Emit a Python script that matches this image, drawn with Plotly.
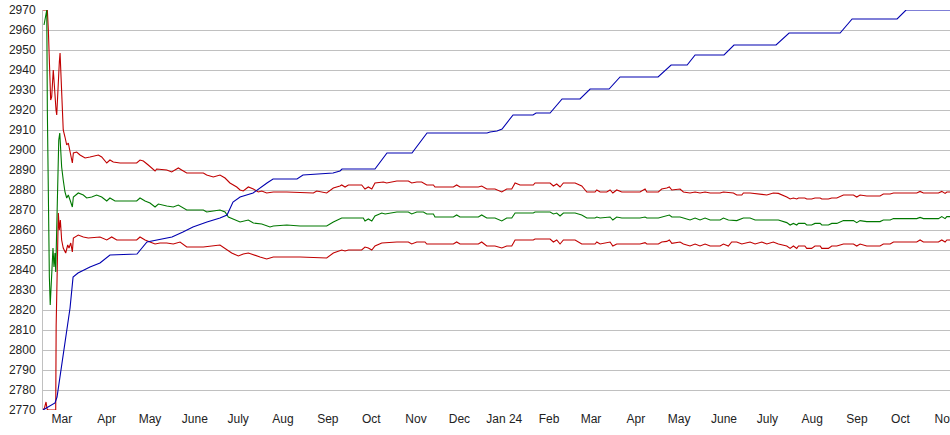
import pandas as pd
import plotly.graph_objects as go

START = "2023-02-16"

# Top series (blue): day offset from START, value
blue_days = [0, 8.3, 9.7, 11.8, 16.4, 18.7, 20.8, 24.2, 32.5, 39.4, 46.3, 65, 71.9, 78.9, 89.2,
             96.8, 103.7, 113.4, 122.4, 127.3, 131.4, 136.3, 145.3, 154.9, 159.1, 175.7, 179.8,
             200.6, 205.4, 206.8, 229.6, 237.9, 255.2, 265.6, 307.1, 309.2, 314, 317.5, 325.1,
             338.9, 341, 350.7, 359, 371.4, 378.4, 391.5, 399.1, 425.4, 434.4, 445.5, 451, 471,
             477.9, 507, 516, 551.3, 559.6, 590.7, 596.9, 627.4]
blue_vals = [2770, 2773.5, 2776.5, 2786.5, 2808.5, 2821, 2836.5, 2838.5, 2841.5, 2843.5, 2847.5,
             2848, 2854, 2855, 2856.5, 2859, 2861.5, 2864, 2866, 2867.5, 2874, 2876.5, 2878.5,
             2883.5, 2885.5, 2885.5, 2887.5, 2888.5, 2889.5, 2890.5, 2890.5, 2898.5, 2898.5,
             2908.5, 2908.5, 2909, 2909.5, 2910.5, 2917.5, 2917.5, 2918.5, 2918.5, 2925.5, 2925.5,
             2930.5, 2930.5, 2936.5, 2936.5, 2942.5, 2942.5, 2947.5, 2947.5, 2952.5, 2952.5,
             2958.5, 2958.5, 2965.5, 2965.5, 2970, 2970]

# Upper band (red)
upper_days = [0, 3.0, 3.7, 4.4, 4.8, 5.3, 6.0, 6.7, 7.1, 7.6, 8.3, 9.0, 9.5, 9.9, 10.6, 11.3, 11.8,
              12.2, 12.9, 13.6, 14.0, 15.2, 16.4, 17.5, 18.2, 18.7, 19.4, 20.3, 21.0, 23.3, 25.6,
              29.1, 32.5, 36.0, 38.3, 40.6, 44.1, 46.3, 48.6, 53.3, 64.8, 67.1, 69.4, 72.8, 75.2,
              77.5, 78.6, 85.6, 89.0, 93.6, 95.9, 99.4, 110.9, 113.2, 117.8, 122.4, 125.9, 129.3,
              134.0, 136.3, 138.5, 142.0, 145.5, 148.9, 151.3, 154.7, 159.3, 168.6, 187.0, 189.3,
              196.2, 200.8, 205.4, 206.6, 208.9, 211.2, 220.4, 222.7, 225, 227.4, 229.6, 235.4,
              237.7, 244.7, 252.7, 255, 258.5, 261.9, 265.4, 270, 271.1, 283.8, 286.1, 288.4,
              301.1, 303.4, 306.9, 312.6, 317.3, 320.7, 324.2, 326.5, 329.9, 339.1, 340.3, 350.7,
              353, 355.3, 357.6, 359.9, 368, 372.6, 376.1, 381.8, 383, 385.3, 389.9, 392.2, 394.1,
              396.8, 400.3, 412.9, 416.4, 417.6, 425.6, 427.9, 431.4, 433.2, 434.9, 440.6, 442.9,
              447.5, 451, 454.4, 457.9, 461.4, 468.3, 470.6, 477.5, 479.8, 483.3, 484.4, 489,
              500.6, 505.1, 508.6, 514.4, 516.7, 519, 521.3, 522.5, 526.9, 528.2, 531.6, 533.9,
              537.5, 538.6, 543.2, 545.5, 549, 553.6, 560.5, 562.8, 565.1, 569.7, 578.9, 581.2,
              585.9, 588.2, 604.3, 606.6, 608.9, 619.3, 621.6, 623.9, 625.1, 627.4]
upper_vals = [2970, 2970, 2960, 2946.5, 2931.5, 2925, 2926.5, 2934, 2940, 2935, 2925, 2920, 2917.5,
              2925, 2935, 2944, 2948.5, 2940, 2928.5, 2916, 2910, 2906.5, 2902.5, 2903.5, 2901,
              2900, 2897, 2893.5, 2898.5, 2899, 2897.5, 2896, 2896.5, 2897, 2897.5, 2896.5, 2893.5,
              2895, 2894, 2893.5, 2893.5, 2895, 2894.5, 2892.5, 2891, 2889.5, 2890.5, 2890, 2889,
              2891, 2890, 2888.5, 2888.5, 2887.5, 2886.5, 2887.5, 2886, 2883.5, 2881.5, 2880,
              2879.5, 2881.5, 2880.5, 2879, 2879.5, 2878.5, 2879, 2879, 2878.5, 2879.5, 2878.5,
              2881, 2882, 2882.5, 2881.5, 2882.5, 2882.5, 2880.5, 2881.5, 2880.5, 2883.5, 2884,
              2883.5, 2884.5, 2884.5, 2883.5, 2884, 2884, 2882.5, 2882.5, 2881.5, 2881.5, 2882.5,
              2881.5, 2881.5, 2882, 2880.5, 2880.5, 2879, 2880.5, 2880.5, 2883.5, 2882.5, 2882.5,
              2883.5, 2883.5, 2882, 2883, 2881.5, 2883.5, 2883.5, 2882, 2879, 2879, 2880, 2879,
              2879, 2880, 2878.5, 2880, 2879, 2879, 2880.5, 2879, 2879, 2880.5, 2881, 2881.5,
              2880, 2880.5, 2879, 2878.5, 2879, 2878.5, 2879, 2878.5, 2878.5, 2879, 2878.5,
              2877.5, 2877.5, 2878.5, 2878.5, 2877.5, 2878.5, 2878.3, 2876.5, 2875.5, 2876,
              2875.5, 2876, 2876, 2875.5, 2875.5, 2876, 2876, 2875.5, 2875.5, 2876, 2876, 2877.5,
              2877.5, 2876.5, 2877.5, 2877, 2877, 2878, 2878, 2878.5, 2878.5, 2879.3, 2878.5,
              2878.5, 2879.3, 2878.3, 2879, 2879]

# Middle series (green)
mid_days = [0.7, 1.9, 2.6, 3.0, 3.7, 4.4, 5.0, 5.5, 6.2, 6.9, 7.6, 8.3, 8.8, 9.5, 10.2, 10.9, 11.6,
            12.2, 12.9, 14.0, 15.2, 16.4, 17.5, 18.7, 20.3, 21.0, 24.4, 27.9, 30.2, 33.7, 37.1,
            40.6, 44.1, 46.3, 49.8, 64.8, 67.1, 70.6, 74.0, 77.5, 79.8, 85.6, 90.1, 93.6, 97.0,
            99.4, 110.9, 113.2, 122.4, 125.9, 128.2, 131.6, 136.3, 142.0, 145.5, 151.3, 157.0,
            159.3, 168.6, 177.8, 196.2, 200.8, 205.4, 206.6, 221.5, 222.7, 225, 227.4, 229.6,
            234.3, 236.6, 244.7, 252.7, 255, 258.5, 263.1, 265.4, 270, 271.1, 283.8, 286.1,
            288.4, 301.1, 303.4, 306.9, 312.6, 317.3, 320.7, 324.2, 326.5, 339.1, 340.3, 350.7,
            353, 355.3, 357.6, 359.9, 368, 372.6, 376.1, 381.8, 383, 385.3, 392.2, 394.1, 396.8,
            400.3, 412.9, 416.4, 417.6, 425.6, 427.9, 431.4, 433.2, 434.9, 440.6, 442.9, 447.5,
            451, 454.4, 457.9, 461.4, 468.3, 470.6, 474, 479.8, 484.4, 489, 492.5, 500.6, 508.6,
            514.4, 516.7, 519, 521.3, 522.5, 526.9, 528.2, 531.6, 533.9, 537.5, 538.6, 543.2,
            545.5, 549, 553.6, 560.5, 562.8, 565.1, 569.7, 578.9, 581.2, 585.9, 588.2, 604.3,
            606.6, 608.9, 619.3, 621.6, 623.9, 625.1, 627.4]
mid_vals = [2962.5, 2968.5, 2970, 2920, 2858.5, 2836.5, 2822.5, 2828.5, 2838.5, 2851, 2841.5,
            2848.5, 2839, 2858.5, 2891.5, 2905, 2908.5, 2900, 2891.5, 2885, 2879, 2876, 2877.5,
            2875, 2871.5, 2876.5, 2878.5, 2877.5, 2876, 2876.5, 2877.5, 2876.5, 2874.5, 2876,
            2874.5, 2874.5, 2876, 2874.5, 2873.5, 2871.5, 2873, 2872, 2871.5, 2872.5, 2871, 2870,
            2870, 2869, 2870, 2869, 2866.5, 2865.5, 2864, 2865, 2863.5, 2863, 2861.5, 2862,
            2862.5, 2862, 2862, 2864, 2865.5, 2866, 2866, 2864.5, 2865.5, 2864.5, 2867, 2868.5,
            2868, 2869, 2869, 2868, 2869, 2869, 2868, 2868, 2866.5, 2866.5, 2867.5, 2866.5,
            2866.5, 2867.5, 2866, 2866, 2864.5, 2866, 2866, 2868.5, 2868.5, 2869, 2869, 2868,
            2868.5, 2867, 2868.5, 2868.5, 2867.5, 2866, 2866, 2866.5, 2866, 2866.5, 2865, 2866.5,
            2866, 2866, 2866.5, 2866, 2866, 2866.5, 2867, 2867.5, 2866.5, 2866.5, 2866, 2865,
            2866, 2865, 2866, 2865, 2865, 2866, 2865, 2864.7, 2866, 2866, 2865, 2865, 2865,
            2863.7, 2862.5, 2863.3, 2862.5, 2863.3, 2863.3, 2862.5, 2862.5, 2863.3, 2863.3,
            2862.5, 2862.5, 2863.3, 2863.3, 2864.7, 2864.7, 2863.7, 2864.7, 2864.2, 2864.2, 2865,
            2865, 2865.7, 2865.7, 2866.3, 2865.7, 2865.7, 2866.7, 2865.7, 2866.7, 2866.7]

# Lower band (red)
lower_days = [0, 1.0, 2.1, 2.8, 3.5, 8.8, 9.1, 9.9, 10.6, 11.3, 12.0, 12.9, 14.0, 15.7, 17.1, 18.0,
              19.2, 20.3, 21.0, 24.4, 27.9, 31.3, 36.0, 39.4, 44.1, 47.5, 51.0, 64.8, 67.1, 70.6,
              74.0, 77.5, 80.9, 85.6, 90.1, 94.8, 99.4, 110.9, 122.4, 127.1, 130.5, 135.1, 138.5,
              142.0, 145.5, 150.1, 154.7, 159.3, 177.8, 189.3, 196.2, 200.8, 205.4, 206.6, 208.9,
              211.2, 220.4, 222.7, 225, 227.4, 229.6, 234.3, 244.7, 252.7, 255, 258.5, 264.2,
              265.4, 283.8, 286.1, 288.4, 301.1, 303.4, 306.9, 312.6, 317.3, 320.7, 324.2, 326.5,
              339.1, 340.3, 350.7, 353, 355.3, 357.6, 359.9, 368, 372.6, 381.8, 383, 385.3, 392.2,
              394.1, 396.8, 412.9, 416.4, 417.6, 425.6, 427.9, 431.4, 433.2, 434.9, 440.6, 442.9,
              447.5, 451, 454.4, 457.9, 461.4, 468.3, 470.6, 474, 476.3, 479.8, 483.3, 489, 492.5,
              497.1, 500.6, 505.1, 508.6, 514.4, 516.7, 519, 521.3, 522.5, 526.9, 528.2, 531.6,
              533.9, 537.5, 538.6, 543.2, 545.5, 549, 553.6, 560.5, 562.8, 565.1, 569.7, 578.9,
              581.2, 585.9, 588.2, 604.3, 606.6, 608.9, 619.3, 621.6, 623.9, 625.1, 627.4]
lower_vals = [2770, 2771, 2774, 2770.5, 2770, 2770, 2812.5, 2845, 2868.5, 2860, 2865, 2855, 2851,
              2848.5, 2852.5, 2851, 2853.5, 2849, 2856, 2857.5, 2856.5, 2856, 2856.5, 2856.5, 2855,
              2856.5, 2855, 2855, 2856.5, 2855, 2854, 2853, 2853.5, 2853.5, 2853, 2854, 2851.5,
              2851.5, 2852.5, 2850, 2848.5, 2847, 2848, 2848.5, 2847.5, 2846.5, 2845.5, 2846.5,
              2846.5, 2846, 2846, 2848.5, 2849.5, 2850, 2849.5, 2850, 2850, 2851.5, 2851, 2850,
              2852, 2853.5, 2854, 2854, 2853, 2854, 2854, 2853, 2853, 2854, 2853, 2853, 2854, 2852,
              2852, 2851, 2852, 2852, 2855, 2855, 2855.5, 2855.5, 2854, 2855, 2853, 2855, 2855,
              2853, 2853, 2854, 2853, 2854, 2852, 2853, 2853, 2853.7, 2853, 2853, 2854, 2854.3,
              2855, 2853.3, 2854, 2853, 2852, 2853, 2852, 2853, 2852, 2852, 2853, 2852, 2854, 2854,
              2853, 2854, 2853, 2854, 2853, 2854, 2853, 2852, 2850.8, 2852, 2850.8, 2852, 2852,
              2850.8, 2850.8, 2852, 2852, 2850.8, 2850.8, 2852, 2852, 2853, 2853, 2852, 2853, 2852,
              2852, 2853, 2853, 2854, 2854, 2855, 2854, 2854, 2855, 2854, 2855, 2855]

tick_dates = ["2023-03-01", "2023-04-01", "2023-05-01", "2023-06-01", "2023-07-01", "2023-08-01",
              "2023-09-01", "2023-10-01", "2023-11-01", "2023-12-01", "2024-01-01", "2024-02-01",
              "2024-03-01", "2024-04-01", "2024-05-01", "2024-06-01", "2024-07-01", "2024-08-01",
              "2024-09-01", "2024-10-01", "2024-11-01"]
tick_labels = ["Mar", "Apr", "May", "June", "July", "Aug", "Sep", "Oct", "Nov", "Dec", "Jan 24",
               "Feb", "Mar", "Apr", "May", "June", "July", "Aug", "Sep", "Oct", "Nov"]


def to_dates(days):
    return pd.Timestamp(START) + pd.to_timedelta(days, unit="D")


fig = go.Figure()
series = [
    (lower_days, lower_vals, "#c00000"),
    (upper_days, upper_vals, "#c00000"),
    (mid_days, mid_vals, "#007800"),
    (blue_days, blue_vals, "#0000b0"),
]
for d, v, c in series:
    fig.add_trace(go.Scatter(x=to_dates(d), y=v, mode="lines",
                             line=dict(color=c, width=1.1), hoverinfo="skip"))

fig.update_layout(
    width=950, height=435,
    margin=dict(l=43, r=0, t=10, b=25, autoexpand=False),
    paper_bgcolor="white", plot_bgcolor="white",
    showlegend=False,
    font=dict(family="Liberation Sans, Arial, sans-serif", size=12, color="#222222"),
)
fig.update_xaxes(
    type="date", automargin=False,
    range=["2023-02-16", "2024-11-04 07:00"],
    tickmode="array", tickvals=tick_dates, ticktext=tick_labels,
    showgrid=False, zeroline=False, showline=False,
    ticks="", tickangle=0, ticklabeloverflow="allow",
)
fig.update_yaxes(
    automargin=False,
    range=[2770, 2970], dtick=10, tick0=2770,
    showgrid=True, gridcolor="#c0c0c0", gridwidth=1,
    zeroline=False, showline=True, linecolor="#c0c0c0", linewidth=1,
    ticks="outside", ticklen=4, tickcolor="rgba(0,0,0,0)", ticklabeloverflow="allow",
)

fig.write_html(
    "out.html",
    config={"displayModeBar": False},
    post_script="document.body.style.margin='0';document.body.style.overflow='hidden';",
)
